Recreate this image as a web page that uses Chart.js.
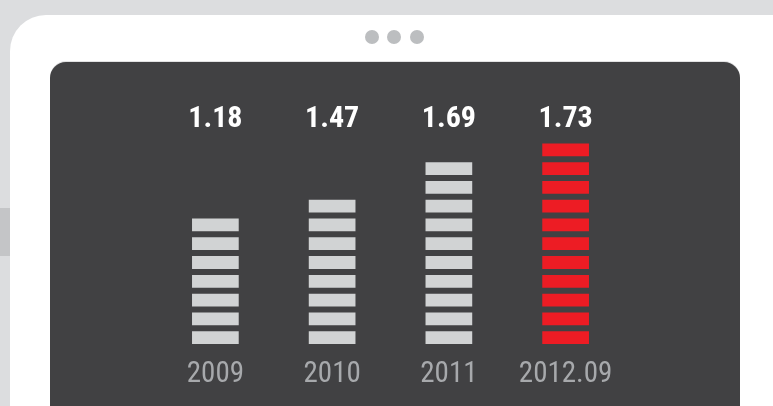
<!DOCTYPE html>
<html>
<head>
<meta charset="utf-8">
<script src="https://cdn.jsdelivr.net/npm/chart.js@4.4.1/dist/chart.umd.min.js"></script>
<style>
  html, body { margin: 0; padding: 0; }
  body { width: 773px; height: 406px; background: #dcdddf; position: relative; overflow: hidden; }
  #band { position: absolute; left: 0; top: 208px; width: 10px; height: 48px; background: #c4c5c7; }
  #frame { position: absolute; left: 10px; top: 15px; width: 800px; height: 460px; background: #ffffff; border-radius: 36px; }
  .dot { position: absolute; top: 30px; width: 14px; height: 14px; border-radius: 50%; background: #bcbec0; }
  #panel { position: absolute; left: 50px; top: 62px; width: 690px; height: 420px; background: #414143; border-radius: 16px; box-shadow: 0 -1px 0 #e2e2e3; }
  #wrap { position: absolute; left: 0; top: 0; width: 773px; height: 406px; }
</style>
</head>
<body>
<div id="band"></div>
<div id="frame"></div>
<div class="dot" style="left:365px"></div>
<div class="dot" style="left:387px"></div>
<div class="dot" style="left:410px"></div>
<div id="panel"></div>
<div id="wrap"><canvas id="c" width="773" height="406"></canvas></div>
<script>
const categories = ['2009', '2010', '2011', '2012.09'];
const values = ['1.18', '1.47', '1.69', '1.73'];
const segmentCounts = [7, 8, 10, 11];
const barColors = ['#d1d3d4', '#d1d3d4', '#d1d3d4', '#ed1c24'];

const FONT = '"Liberation Sans Narrow", "Roboto Condensed", "DejaVu Sans Condensed", Roboto, sans-serif';
const maxSeg = Math.max(...segmentCounts);
const datasets = [];
for (let i = 0; i < maxSeg; i++) {
  datasets.push({
    data: segmentCounts.map(c => (i < c ? [i, i + 0.68] : null)),
    backgroundColor: barColors,
    borderWidth: 0,
    grouped: false,
    categoryPercentage: 0.4,
    barPercentage: 1.0
  });
}

new Chart(document.getElementById('c'), {
  type: 'bar',
  data: { labels: categories, datasets },
  options: {
    responsive: false,
    animation: false,
    events: [],
    layout: { padding: { left: 157, right: 149, top: 80, bottom: 0 } },
    plugins: { legend: { display: false }, tooltip: { enabled: false } },
    scales: {
      x: {
        position: 'bottom',
        grid: { display: false, drawTicks: false },
        border: { display: false },
        ticks: { color: '#a7a9ac', font: { family: FONT, size: 29 }, padding: 13 },
        afterFit: s => { s.height = 62; }
      },
      xTop: {
        type: 'category',
        position: 'top',
        labels: values,
        grid: { display: false, drawTicks: false },
        border: { display: false },
        ticks: { color: '#ffffff', font: { family: FONT, size: 30, weight: 'bold' }, padding: -8 },
        afterFit: s => { s.height = 49; }
      },
      y: {
        display: false,
        min: 0,
        max: 11.45
      }
    }
  }
});
</script>
</body>
</html>
